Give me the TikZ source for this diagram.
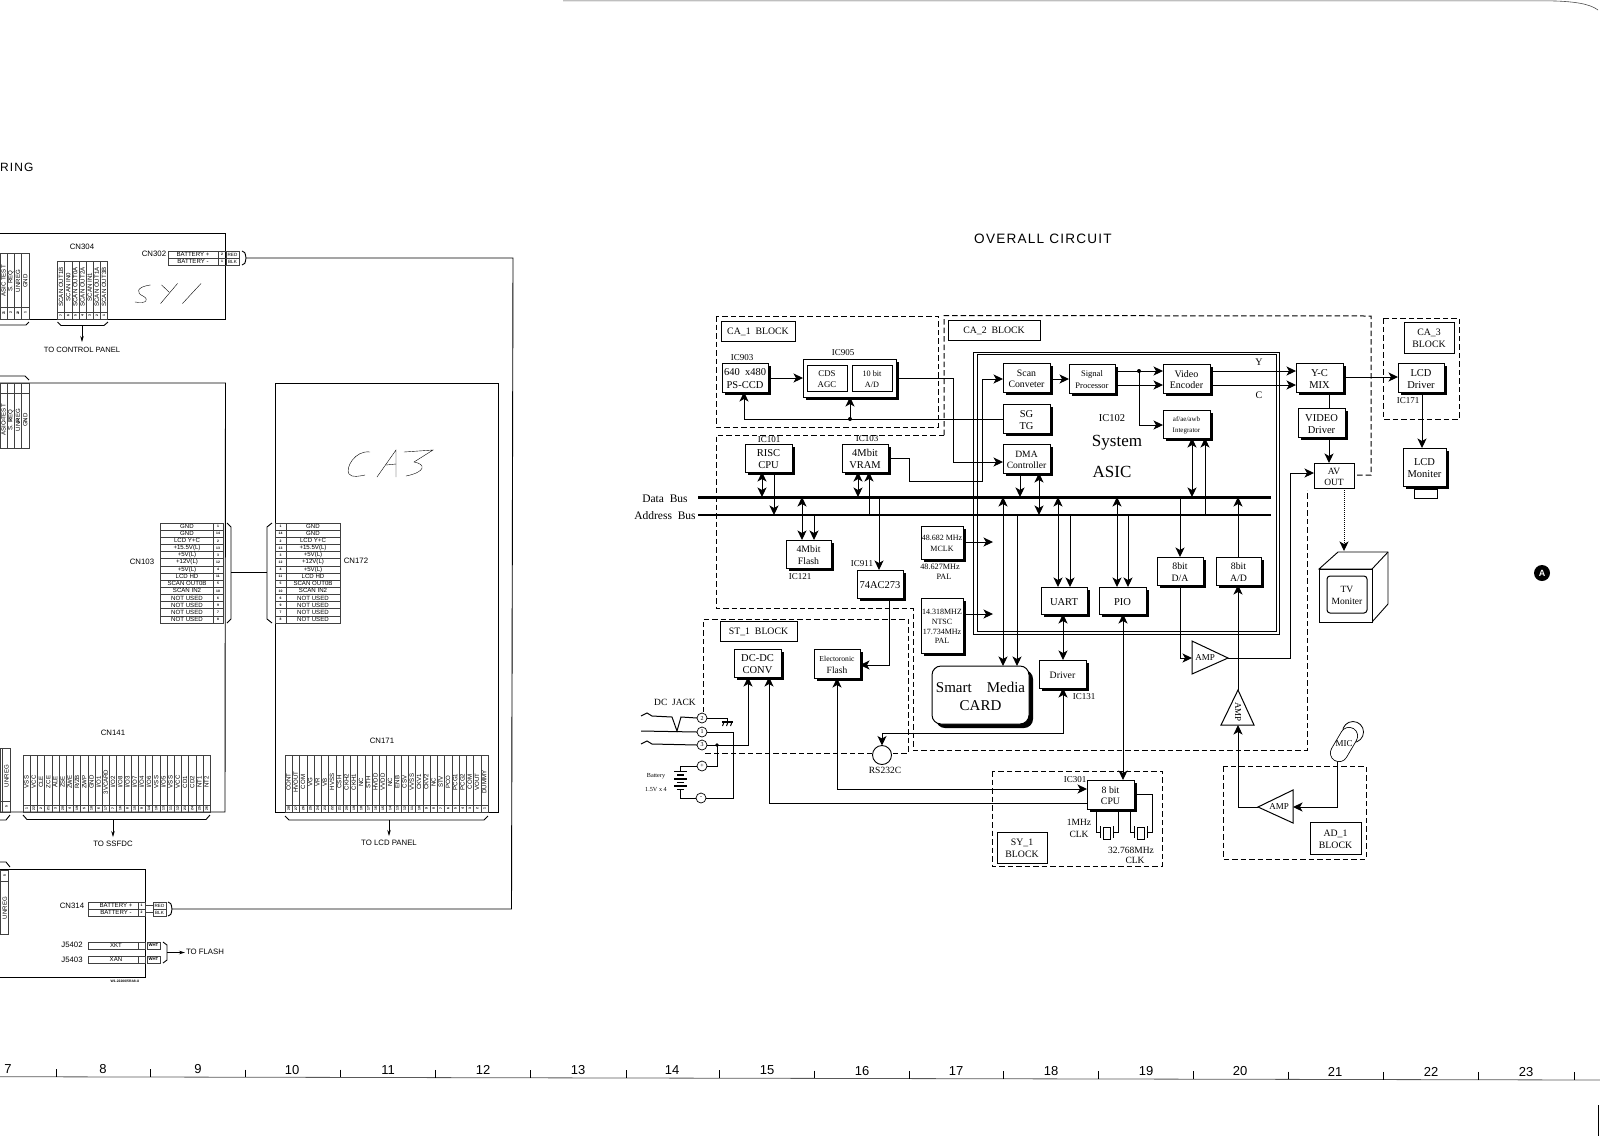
\documentclass[tikz,border=0pt]{standalone}
\usepackage{fontspec}
\setmainfont{Liberation Serif}
\newfontfamily\cad{Liberation Sans}
\newfontfamily\spc[LetterSpace=9]{Liberation Sans}
\usetikzlibrary{arrows.meta,calc}
\newcommand\fsz[2]{\fontsize{#1}{#2}\selectfont}
\newcommand\fsl{/}
\tikzset{
  >={Stealth[length=9.5pt,width=9pt,inset=2.5pt]},
  wire/.style={line width=1pt,line join=miter},
  arr/.style={wire,->},
  dbl/.style={wire,<->},
  dsh/.style={line width=1pt,dash pattern=on 5.5pt off 3pt},
  bus/.style={line width=3pt},
  boxst/.style={draw,fill=white,line width=1pt,inner sep=0pt,outer sep=0pt},
  boxtx/.style={inner sep=0pt,outer sep=0pt,align=center,font=\fsz{10.5}{12}},
  lab/.style={inner sep=0pt,outer sep=0pt,align=center,font=\fsz{9}{10}},
  tab/.style={line width=0.45pt,draw=black!75},
  brd/.style={line width=0.9pt},
  cadt/.style={inner sep=0pt,outer sep=0pt,font=\cad\fsz{6.1}{7}},
  cadn/.style={inner sep=0pt,outer sep=0pt,font=\cad\bfseries\fsz{3.4}{4}},
  cadl/.style={inner sep=0pt,outer sep=0pt,font=\cad\fsz{7.8}{9}},
  hand/.style={line width=0.4pt,line cap=round},
  pin/.style={circle,draw,fill=white,line width=0.7pt,minimum size=10pt,inner sep=0pt,outer sep=0pt,font=\fsz{6}{6}},
  mini/.style={->,>={Stealth[length=6pt,width=3.5pt]},line width=0.7pt},
}
% plain box: opts,name,x1,y1,x2,y2,text
\newcommand\blk[7][]{%
  \pgfmathsetmacro\bw{#5-#3}\pgfmathsetmacro\bh{#6-#4}%
  \node[boxst,minimum width=\bw pt,minimum height=\bh pt,#1] (#2) at ({(#3+#5)/2},{(#4+#6)/2}) {};
  \node[boxtx,#1] (#2t) at ({(#3+#5)/2},{(#4+#6)/2+1.2}) {#7};}
% box with shadow
\newcommand\sblk[7][]{%
  \fill ({#3+3},{#4+3}) rectangle ({#5+3},{#6+3});%
  \blk[#1]{#2}{#3}{#4}{#5}{#6}{#7}}
% horizontal row table: name,xl,xsplit,xr,xlabel,xnum,ytop,list
\newcommand\htab[8]{%
  \foreach \l/\n [count=\i] in {#8} {%
    \pgfmathsetmacro\ya{#7+(\i-1)*7.14}\pgfmathsetmacro\yb{\ya+7.14}\pgfmathsetmacro\ym{\ya+3.57}%
    \draw[tab] (#2,\ya) rectangle (#4,\yb);
    \draw[tab] (#3,\ya) -- (#3,\yb);
    \node[cadt] (#1l\i) at (#5,\ym) {\l};
    \node[cadn] (#1n\i) at (#6,\ym) {\n};
  }}
% vertical column table: name,x1,colw,ytop,ysplit,ybot,ylabel,list
\newcommand\vtab[8]{%
  \foreach \l/\n [count=\i] in {#8} {%
    \pgfmathsetmacro\xa{#2+(\i-1)*#3}\pgfmathsetmacro\xb{\xa+#3}\pgfmathsetmacro\xm{\xa+#3/2}%
    \draw[tab] (\xa,#4) rectangle (\xb,#6);
    \draw[tab] (\xa,#5) -- (\xb,#5);
    \node[cadt,rotate=90] (#1l\i) at (\xm,#7) {\l};
    \node[cadn,rotate=90] (#1n\i) at (\xm,{(#5+#6)/2}) {\n};
  }}
\begin{document}
\begin{tikzpicture}[x=1pt,y=-1pt]
\useasboundingbox[fill=white] (0,0) rectangle (1600,1136);

% ---------- sheet marks ----------
\draw[line width=0.6pt,black!70] (563,0.8) -- (1545,0.8) .. controls (1575,1) and (1590,4) .. (1598,10);
\draw[line width=1.5pt] (1598.5,1105) -- (1598.5,1136);
\draw[line width=0.8pt,black!65] (0,1076.7) -- (1600,1080);
\foreach \x in {56,150,245,340,435,530,626,719,814,909,1003,1098,1193,1288,1383,1478,1574}
  \draw[line width=0.4pt] (\x,{1069+\x*0.002}) -- (\x,{1076.7+\x*0.00206});
\foreach \n/\x [count=\i] in {7/8,8/103,9/198,10/292,11/388,12/483,13/578,14/672,15/767,16/862,17/956,18/1051,19/1146,20/1240,21/1335,22/1431,23/1526}
  \node[inner sep=0pt,font=\cad\fsz{13}{14}] (rul\i) at (\x,{1069+\x*0.002}) {\n};
\node[anchor=west,inner sep=0pt,font=\spc\fsz{12}{14}] (ring) at (0,167.5) {RING};
\node[inner sep=0pt,font=\spc\fsz{13.6}{14}] (title) at (1043,239) {OVERALL CIRCUIT};
\node[circle,fill=black,text=white,minimum size=16pt,inner sep=0pt,font=\cad\bfseries\fsz{9}{9}] (markA) at (1542,573) {A};

% ---------- left: wiring boards ----------
\draw[brd] (0,233) -- (225.5,233) -- (225.5,319) -- (0,319);
\draw[brd] (0,383) -- (225.5,383) -- (225,812) -- (0,812);
\draw[brd] (275,383) rectangle (498,812);
\draw[brd] (0,869) -- (145,869) -- (145,977) -- (0,977);

\node[cadl] (cn304) at (82,247) {CN304};
\node[cadl] (cn302) at (154,254) {CN302};
\vtab{ta}{0}{7.2}{253}{307}{319}{281}{ASIC TEST/21,S. REQ/2,UNREG/22,GND/1}
\vtab{tb}{0}{7.2}{383}{393}{448}{420}{ASIC TEST/21,S. REQ/2,UNREG/22,GND/1}
\vtab{tc}{57.5}{7.15}{261}{312}{319}{287}{SCAN OUT1B/7,SCAN IN0/6,SCAN OUT0A/5,SCAN OUT2A/4,SCAN IN1/3,SCAN OUT1A/2,SCAN OUT3B/1}
\draw[brd] (0,325) -- (26,325) -- (29,322);
\draw[brd] (0,376) -- (25,376) -- (29,380);
\draw[brd] (57.5,322) -- (61,325.5) -- (104,325.5) -- (108,322);
\coordinate (tcb) at (82,325.5);
\coordinate (tcp) at (82,342);
\draw[mini] (tcb) -- (tcp);
\node[cadl,font=\cad\fsz{7.6}{9}] (tocp) at (82,350) {TO CONTROL PANEL};

% battery CN302
\draw[tab] (168,251) rectangle (239,265); \draw[tab] (168,258) -- (239,258);
\draw[tab] (218,251) -- (218,265); \draw[tab] (226,251) -- (226,265);
\node[cadt] (b1) at (193,254.5) {BATTERY +};
\node[cadt] (b2) at (193,261.5) {BATTERY -};
\node[cadn] (b1n) at (222,254.5) {2};
\node[cadn] (b2n) at (222,261.5) {1};
\node[cadn,font=\cad\fsz{4.6}{5}] (b1c) at (232.5,254.5) {RED};
\node[cadn,font=\cad\fsz{4.6}{5}] (b2c) at (232.5,261.5) {BLK};
\draw[brd] (242,251) .. controls (245,252) .. (246,258) .. controls (245,264) .. (242,265);
\coordinate (bra) at (246,258);
\coordinate (brb) at (172,909);
\draw[brd] (bra) -- (513,258) -- (511.5,909) -- (brb);

% CN103 / CN172
\node[cadl] (cn103) at (142,562) {CN103};
\node[cadl] (cn172) at (356,561) {CN172};
\htab{cna}{160}{213}{223}{187}{218}{523}{GND/1,GND/14,LCD Y+C/2,+15.5V(L)/13,+5V(L)/3,+12V(L)/12,+5V(L)/4,LCD HD/11,SCAN OUT0B/5,SCAN IN2/10,NOT USED/6,NOT USED/9,NOT USED/7,NOT USED/8}
\htab{cnb}{275}{286}{340}{313}{280.5}{523}{GND/1,GND/14,LCD Y+C/2,+15.5V(L)/13,+5V(L)/3,+12V(L)/12,+5V(L)/4,LCD HD/11,SCAN OUT0B/5,SCAN IN2/10,NOT USED/6,NOT USED/9,NOT USED/7,NOT USED/8}
\draw[brd] (227,523) -- (231,527) -- (231,619) -- (227,623);
\draw[brd] (272,523) -- (267,527) -- (267,619) -- (272,623);
\coordinate (cnm1) at (231,572.5);
\coordinate (cnm2) at (267,572.5);
\draw[brd] (cnm1) -- (cnm2);

% CN141 / CN171
\node[cadl] (cn141) at (113,733) {CN141};
\node[cadl] (cn171) at (382,741) {CN171};
\vtab{te}{23}{7.2}{755}{805}{812}{782}{VSS/1,VCC/22,CLE/2,ZCE/21,ALE/3,ZSE/20,ZWE/4,R\fsl ZB/19,ZWP/5,GND/18,I\fsl O1/6,3VCARD/17,I\fsl O2/7,I\fsl O8/16,I\fsl O3/8,I\fsl O7/15,I\fsl O4/9,I\fsl O6/14,VSS/10,I\fsl O5/13,VSS/11,VCC/12,CD1/23,CD2/24,NT1/25,NT2/26}
\vtab{tf}{285}{7.25}{755}{805}{812}{782}{CONT/28,HVOUT/27,COM/26,VG/25,VR/24,VB/23,HVSS/22,CSH/21,CKH2/20,CKH1/19,NC/18,STH/17,HVDD/16,VVDD/15,NC/14,ENB/13,CSV/12,VVSS/11,CKV1/10,CKV2/9,NC/8,STV/7,PCO/6,PCG1/5,PCG2/4,COM/3,VOUT/2,DUMMY/1}
\draw[brd] (23,815) -- (27,819.5) -- (206,819.5) -- (210,815);
\draw[brd] (285,816) -- (289,820) -- (484,820) -- (488,816);
\coordinate (teb) at (113,819.5); \coordinate (tep) at (113,837);
\coordinate (tfb) at (389,820); \coordinate (tfp) at (389,836);
\draw[mini] (teb) -- (tep);
\draw[mini] (tfb) -- (tfp);
\node[cadl] (tossfdc) at (113,844) {TO SSFDC};
\node[cadl] (tolcd) at (389,843) {TO LCD PANEL};

% far-left UNREG columns
\draw[tab] (0,748) rectangle (10,812); \draw[tab] (0,801) -- (10,801); \draw[tab] (2.7,748) -- (2.7,812);
\node[cadt,rotate=90] (un1) at (6.5,776) {UNREG};
\node[cadn,rotate=90] (un1n) at (6.5,806.5) {5};
\draw[brd] (0,820) -- (6,820) -- (10,815);
\draw[brd] (0,862) -- (6,862) -- (10,867);
\draw[tab] (0,870) rectangle (8.5,934); \draw[tab] (0,881) -- (8.5,881);
\node[cadt,rotate=90] (un2) at (4.7,908) {UNREG};
\node[cadn,rotate=90] (un2n) at (4.7,875.5) {5};

% CN314, J5402, J5403
\node[cadl] (cn314) at (72,906) {CN314};
\draw[tab] (88,902) rectangle (145,916); \draw[tab] (88,909) -- (145,909); \draw[tab] (138,902) -- (138,916);
\node[cadt] (c1) at (116,905.5) {BATTERY +};
\node[cadt] (c2) at (116,912.5) {BATTERY -};
\node[cadn] (c1n) at (141.5,905.5) {1};
\node[cadn] (c2n) at (141.5,912.5) {2};
\draw[tab] (153,902) rectangle (166,916); \draw[tab] (153,909) -- (166,909);
\draw[tab] (145,905.5) -- (153,905.5); \draw[tab] (145,912.5) -- (153,912.5);
\node[cadn,font=\cad\fsz{4.6}{5}] (c1c) at (159.5,905.5) {RED};
\node[cadn,font=\cad\fsz{4.6}{5}] (c2c) at (159.5,912.5) {BLK};
\draw[brd] (168,902) .. controls (171,903) .. (172,909) .. controls (171,915) .. (168,916);
\node[cadl] (j5402) at (72,945) {J5402};
\node[cadl] (j5403) at (72,959.5) {J5403};
\draw[tab] (88,942) rectangle (145,949); \draw[tab] (138,942) -- (138,949);
\draw[tab] (88,956) rectangle (145,963); \draw[tab] (138,956) -- (138,963);
\node[cadt] (xkt) at (116,945.5) {XKT};
\node[cadt] (xan) at (116,959.5) {XAN};
\draw[tab] (147,942) rectangle (160,949); \draw[tab] (147,956) rectangle (160,963);
\node[cadn,font=\cad\bfseries\fsz{4.2}{5}] (w1) at (153.5,945.5) {WHT};
\node[cadn,font=\cad\bfseries\fsz{4.2}{5}] (w2) at (153.5,959.5) {WHT};
\draw[brd] (163,942) -- (167,945) -- (167,960) -- (163,963);
\coordinate (fl1) at (167,952.5); \coordinate (fl2) at (185,952.5);
\draw[mini] (fl1) -- (fl2);
\node[cadl,anchor=west] (toflash) at (186,952) {TO FLASH};
\node[inner sep=0pt,font=\cad\bfseries\fsz{3.4}{4}] (dwg) at (125,981) {W1-22200/5RA8-U};

% handwriting
\draw[hand] (150.4,285) .. controls (136,287) and (136,293) .. (143,296) .. controls (150,300) and (146,304) .. (135,302);
\draw[hand] (161.6,285) -- (169,292); \draw[hand] (177.5,283.5) -- (160.6,303.5);
\draw[hand] (201,283.5) -- (182.5,303.5);
\draw[hand] (370,452) .. controls (355,450) and (345,468) .. (349,474) .. controls (352,478) and (360,476) .. (365,475);
\draw[hand] (377,477) -- (396,450) -- (396,477); \draw[hand] (386,465) -- (396,464);
\draw[hand] (404,452) -- (433,450) -- (414,462) .. controls (426,464) and (426,472) .. (406,476);

% ---------- right: dashed blocks ----------
\draw[dsh] (716,316) rectangle (938,427);
\draw[dsh] (944,435) -- (944,315.5) -- (1371,316) -- (1371,475) -- (1356,475);
\draw[dsh] (944,435) -- (716,435) -- (716,608) -- (913,608) -- (913,750) -- (1307,750) -- (1307,490);
\draw[dsh] (703,712) -- (703,619) -- (908,619) -- (908,753) -- (892,753);
\draw[dsh] (872,753) -- (705,753);
\draw[dsh] (1383,318) rectangle (1459,419);
\draw[dsh] (1223,766) rectangle (1366,859);
\draw[dsh] (992,771) rectangle (1162,866);

% ASIC frame
\draw[line width=0.9pt] (973.5,352) rectangle (1279,634);
\draw[line width=0.9pt] (977,354.5) rectangle (1276.5,631.5);

% ---------- boxes ----------
\blk[font=\fsz{9.8}{11}]{bca1}{721}{321}{795}{341}{CA\_1\ \ BLOCK}
\blk[font=\fsz{9.8}{11}]{bca2}{948}{320}{1040}{340}{CA\_2\ \ BLOCK}
\blk[font=\fsz{9.8}{11}]{bst1}{720}{621}{797}{641}{ST\_1\ \ BLOCK}
\blk[font=\fsz{9.8}{12}]{bca3}{1404}{322}{1454}{353}{CA\_3\\BLOCK}
\blk[font=\fsz{9.8}{12}]{bsy1}{997}{832}{1047}{863}{SY\_1\\BLOCK}
\blk[font=\fsz{9.8}{12}]{bad1}{1310}{822}{1361}{854}{AD\_1\\BLOCK}

\sblk[font=\fsz{10.5}{12.5}]{ccd}{722}{363}{768}{392}{640\ \ x480\\PS-CCD}
\sblk{ic905}{803}{359}{896}{397}{}
\blk[font=\fsz{8.8}{10.5}]{cds}{807}{365}{847}{391}{CDS\\AGC}
\blk[font=\fsz{8.2}{10.5}]{adc}{852}{365}{892}{391}{10 bit\\A/D}
\sblk{risc}{745}{444}{792}{472}{RISC\\CPU}
\sblk{vram}{842}{444}{888}{472}{4Mbit\\VRAM}
\sblk[font=\fsz{9.8}{11.5}]{flash}{786}{540}{831}{568}{4Mbit\\Flash}
\sblk{ac273}{857}{570}{903}{598}{74AC273}
\sblk[font=\fsz{9.8}{11.5}]{scan}{1003}{363}{1050}{392}{Scan\\Conveter}
\sblk{sgtg}{1003}{404}{1050}{433}{SG\\TG}
\sblk[font=\fsz{9.6}{11.5}]{dma}{1003}{444}{1050}{473}{DMA\\Controller}
\sblk[font=\fsz{8.5}{12}]{sigp}{1069}{364}{1115}{393}{Signal\\Processor}
\sblk[font=\fsz{10}{11.5}]{venc}{1163}{364}{1210}{393}{Video\\Encoder}
\sblk[font=\fsz{7}{11}]{integ}{1163}{410}{1210}{438}{af/ae/awb\\Integrator}
\sblk{ymix}{1296}{363}{1343}{392}{Y-C\\MIX}
\sblk{vdrv}{1298}{408}{1345}{437}{VIDEO\\Driver}
\blk[font=\fsz{9.5}{10.5}]{avout}{1314}{463}{1354}{488}{AV\\OUT}
\sblk{lcdd}{1398}{363}{1444}{392}{LCD\\Driver}
\blk{lcdb}{1414}{489}{1437}{498}{}
\sblk{lcdm}{1403}{448}{1446}{486}{LCD\\Moniter}
\sblk[font=\fsz{9.8}{12}]{da}{1157}{557}{1203}{585}{8bit\\D/A}
\sblk[font=\fsz{9.8}{12}]{ad}{1216}{557}{1261}{585}{8bit\\A/D}
\sblk{uart}{1041}{587}{1087}{614}{UART}
\sblk{pio}{1099}{587}{1146}{614}{PIO}
\sblk[font=\fsz{8}{11}]{mclk}{921}{526}{963}{559}{48.682 MHz\\MCLK}
\sblk[font=\fsz{8}{9.7}]{ntsc}{921}{598}{963}{653}{14.318MHZ\\NTSC\\17.734MHz\\PAL}
\sblk{dcdc}{734}{649}{781}{677}{DC-DC\\CONV}
\sblk[font=\fsz{7.6}{12}]{eflash}{814}{649}{860}{678}{Electoronic\\{\fsz{9.5}{12}Flash}}
\sblk[font=\fsz{9.8}{11}]{driver}{1039}{660}{1086}{688}{Driver}
\fill[rounded corners=9pt] (936,670) rectangle (1033,728);
\blk[rounded corners=9pt,font=\fsz{15}{18}]{smc}{932}{666}{1029}{724}{Smart\ \ \ \ Media\\CARD}
\sblk[font=\fsz{9.8}{11.5}]{cpu}{1087}{780}{1134}{809}{8 bit\\CPU}

% TV
\draw[line width=0.9pt,fill=white] (1319,569) -- (1338,552) -- (1388,552) -- (1388,604) -- (1372,622) -- (1372,569) -- cycle;
\draw[line width=0.9pt] (1372,569) -- (1388,552);
\blk{tvf}{1319}{569}{1372}{622}{}
\blk[rounded corners=3pt,font=\fsz{9.5}{12}]{tv}{1327}{576}{1367}{613}{TV\\Moniter}

% ---------- text labels ----------
\node[lab] (t903) at (742,358) {IC903};
\node[lab] (t905) at (843,353) {IC905};
\node[lab] (t101) at (769,440) {IC101};
\node[lab] (t103) at (867,439) {IC103};
\node[lab] (t121) at (800,577) {IC121};
\node[lab] (t911) at (862,564) {IC911};
\node[lab] (t171) at (1408,401) {IC171};
\node[lab] (t131) at (1084,697) {IC131};
\node[lab] (t301) at (1075,780) {IC301};
\node[lab,font=\fsz{10.5}{12}] (t102) at (1112,418) {IC102};
\node[lab,font=\fsz{17}{20}] (tsys) at (1117,443) {System};
\node[lab,font=\fsz{17}{20}] (tasic) at (1112,472) {ASIC};
\node[lab,font=\fsz{10}{11}] (ty) at (1259,362) {Y};
\node[lab,font=\fsz{10}{11}] (tc) at (1259,395) {C};
\node[lab,font=\fsz{8.2}{9}] (tf1) at (940,567) {48.627MHz};
\node[lab,font=\fsz{8.2}{9}] (tf2) at (944,577) {PAL};
\node[lab,font=\fsz{11.5}{12}] (tdata) at (665,499) {Data\ \ Bus};
\node[lab,font=\fsz{11.5}{12}] (taddr) at (665,516) {Address\ \ Bus};
\node[lab,font=\fsz{9.5}{11}] (tjack) at (675,702) {DC\ \ JACK};
\node[lab,font=\fsz{9.5}{11}] (trs) at (885,770) {RS232C};
\node[lab,font=\fsz{6.2}{7}] (tbat) at (656,776) {Battery};
\node[lab,font=\fsz{6.2}{7}] (tbat2) at (656,789) {1.5V x 4};
\node[lab,font=\fsz{9.5}{12}] (t1m) at (1079,828) {1MHz\\CLK};
\node[lab,font=\fsz{9.5}{10}] (t32) at (1131,850) {32.768MHz};
\node[lab,font=\fsz{9.5}{10}] (t32c) at (1135,860) {CLK};

% ---------- buses ----------
\coordinate (db1) at (698,497); \coordinate (db2) at (1271,497);
\coordinate (ab1) at (698,515); \coordinate (ab2) at (1271,515);
\draw[bus] (db1) -- (db2);
\draw[bus,line width=2.5pt] (ab1) -- (ab2);

% ---------- connectors ----------
\draw[arr] (ccd.east |- 0,378) -- (ic905.west |- 0,378);
\draw[wire] (ic905.east |- 0,378) -- (953,378) -- (953,462);
\draw[arr] (953,462) -- (dma.west |- 0,462);
\draw[arr] (vram.east |- 0,458) -- (909,458) -- (909,481) -- (982,481) -- (982,379) -- (scan.west |- 0,379);
\draw[arr] (sgtg.west |- 0,419) -- (744,419) -- (ccd.south -| 744,0);
\fill (850,419) circle (2pt);
\coordinate (sgj) at (850,419);
\draw[arr] (sgj) -- (ic905.south -| sgj);

\draw[dbl] (risc.south -| 762,0) -- (db1 -| 762,0);
\draw[arr] (risc.south -| 774,0) -- (ab1 -| 774,0);
\draw[dbl] (db1 -| 802,0) -- (flash.north -| 802,0);
\draw[arr] (ab1 -| 814,0) -- (flash.north -| 814,0);
\draw[dbl] (vram.south -| 858,0) -- (db1 -| 858,0);
\draw[arr] (ab1 -| 869,0) -- (vram.south -| 869,0);
\draw[arr] (db1 -| 879,0) -- (ac273.north -| 879,0);
\draw[arr] (ac273.south -| 889,0) -- (889,665) -- (eflash.east |- 0,665);

\draw[arr] (dma.south -| 1020,0) -- (db1 -| 1020,0);
\draw[dbl] (dma.south -| 1039,0) -- (ab1 -| 1039,0);
\draw[dbl] (db1 -| 1003,0) -- (smc.north -| 1003,0);
\draw[arr] (ab1 -| 1017,0) -- (smc.north -| 1017,0);
\draw[dbl] (db1 -| 1058,0) -- (uart.north -| 1058,0);
\draw[arr] (ab1 -| 1070,0) -- (uart.north -| 1070,0);
\draw[dbl] (db1 -| 1117,0) -- (pio.north -| 1117,0);
\draw[arr] (ab1 -| 1128,0) -- (pio.north -| 1128,0);
\draw[dbl] (integ.south -| 1192,0) -- (db1 -| 1192,0);
\draw[arr] (ab1 -| 1205,0) -- (integ.south -| 1205,0);
\draw[arr] (db1 -| 1180,0) -- (da.north -| 1180,0);
\draw[arr] (ad.north -| 1238,0) -- (db1 -| 1238,0);
\draw[arr] (mclk.east |- 0,542) -- (993,542);
\draw[arr] (ntsc.east |- 0,614) -- (993,614);

\draw[arr] (scan.east |- 0,379) -- (sigp.west |- 0,379);
\draw[arr] (sigp.east |- 0,371) -- (venc.west |- 0,371);
\draw[arr] (sigp.east |- 0,385) -- (venc.west |- 0,385);
\coordinate (sigj) at (1139,371);
\fill (sigj) circle (2pt);
\draw[arr] (sigj) -- (1139,425) -- (integ.west |- 0,425);
\draw[arr] (venc.east |- 0,371) -- (ymix.west |- 0,371);
\draw[arr] (venc.east |- 0,385) -- (ymix.west |- 0,385);
\draw[arr] (ymix.east |- 0,377) -- (lcdd.west |- 0,377);
\draw[wire] (ymix.south -| 1329,0) -- (vdrv.north -| 1329,0);
\draw[arr] (vdrv.south -| 1329,0) -- (avout.north -| 1329,0);
\draw[arr] (lcdd.south -| 1422,0) -- (lcdm.north -| 1422,0);
\draw[->,line width=1pt,densely dotted] (avout.south -| 1344,0) -- (1344,551);

\draw[dbl] (uart.south -| 1063,0) -- (driver.north -| 1063,0);
\draw[dbl] (pio.south -| 1123,0) -- (cpu.north -| 1123,0);

% amplifiers
\coordinate (a1a) at (1192,641); \coordinate (a1b) at (1192,674); \coordinate (a1t) at (1228,658);
\draw[wire,fill=white] (a1a) -- (a1t) -- (a1b) -- cycle;
\node[lab,font=\fsz{9}{10}] (amp1) at (1205,658) {AMP};
\draw[arr] (da.south -| 1180,0) -- (1180,658) -- (a1a |- 0,658);
\draw[arr] (a1t) -- (1290,658) -- (1290,473) -- (avout.west |- 0,473);

\coordinate (a2t) at (1238,690); \coordinate (a2a) at (1221,725); \coordinate (a2b) at (1254,725);
\draw[wire,fill=white] (a2t) -- (a2a) -- (a2b) -- cycle;
\node[lab,rotate=-90,font=\fsz{9}{10}] (amp2) at (1238,712) {AMP};
\draw[arr] (a2t) -- (ad.south -| a2t);

\coordinate (a3t) at (1258,807); \coordinate (a3a) at (1293,790); \coordinate (a3b) at (1293,823);
\draw[wire,fill=white] (a3t) -- (a3a) -- (a3b) -- cycle;
\node[lab,font=\fsz{9}{10}] (amp3) at (1279,807) {AMP};
\draw[arr] (a3t) -- (1238,807) -- (1238,725);

% microphone
\node[circle,draw,line width=0.8pt,minimum size=21pt,inner sep=0pt] (micb) at (1353,732) {};
\coordinate (mica) at (1339,753); \coordinate (micc) at (1349,736);
\draw[line width=18pt,line cap=round] (mica) -- (micc);
\draw[line width=16.4pt,line cap=round,white] (mica) -- (micc);
\node[lab,font=\fsz{9}{10}] (mic) at (1344,744) {MIC};
\coordinate (mico) at (1337,762);
\draw[arr] (mico) -- (1337,807) -- (a3a |- 0,807);

% RS232C
\node[circle,draw,fill=white,line width=0.9pt,minimum size=19pt,inner sep=0pt,outer sep=0pt] (rs) at (882,755) {};
\draw[dbl] (driver.south -| 1063,0) -- (1063,733) -- (882,733) -- (rs.north);

% CPU feeds
\draw[dbl] (eflash.south -| 837,0) -- (837,789) -- (cpu.west |- 0,789);
\draw[arr] (cpu.west |- 0,803) -- (769,803) -- (dcdc.south -| 769,0);

% crystals
\draw[wire] (cpu.south -| 1096,0) -- (1096,832) -- (1100,832);
\draw[wire] (1100,826) -- (1100,838);
\draw[wire] (1103.5,827) rectangle (1110,839);
\draw[wire] (1113.5,826) -- (1113.5,838);
\draw[wire] (1113.5,832) -- (1118,832) -- (cpu.south -| 1118,0);
\draw[wire] (cpu.south -| 1130,0) -- (1130,832) -- (1134,832);
\draw[wire] (1134,826) -- (1134,838);
\draw[wire] (1137.5,827) rectangle (1144,839);
\draw[wire] (1147.5,826) -- (1147.5,838);
\draw[wire] (1147.5,832) -- (1152,832) -- (1152,794) -- (cpu.east |- 0,794);

% DC jack and battery
\node[pin] (j2) at (702,718) {2};
\node[pin] (j1) at (702,732) {1};
\node[pin] (j3) at (702,745) {3};
\node[pin] (jp) at (702,766) {+};
\node[pin] (jm) at (701,798) {-};
\draw[wire] (641,716) -- (647,713) -- (652,716) -- (672,717) -- (677,731) -- (681,717) -- (j2.west);
\draw[wire] (641,731) -- (j1.west);
\draw[wire] (641,744) -- (647,741) -- (652,744) -- (j3.west);
\coordinate (gnd) at (727,718);
\draw[wire] (j2.east) -- (gnd) -- (727,722);
\draw[wire,line width=1.2pt] (722,722) -- (733,722);
\draw[wire] (724,722) -- (722.5,726) (728,722) -- (726.5,726) (732,722) -- (730.5,726);
\draw[wire] (j1.east) -- (733,732) -- (733,798) -- (jm.east);
\draw[arr] (j3.east) -- (748,745) -- (dcdc.south -| 748,0);
\coordinate (batj) at (717,745);
\fill (batj) circle (1.9pt);
\draw[wire] (batj) -- (717,766) -- (jp.east);
\draw[wire] (jp.west) -- (680,766) -- (680,771.5);
\draw[wire] (680,789.5) -- (680,798) -- (jm.west);
\draw[line width=1.3pt] (674,771.5) -- (687,771.5) (677,775) -- (684,775) (674,779) -- (687,779) (677,782.5) -- (684,782.5) (674,786) -- (687,786) (677,789.5) -- (684,789.5);
\end{tikzpicture}
\end{document}
